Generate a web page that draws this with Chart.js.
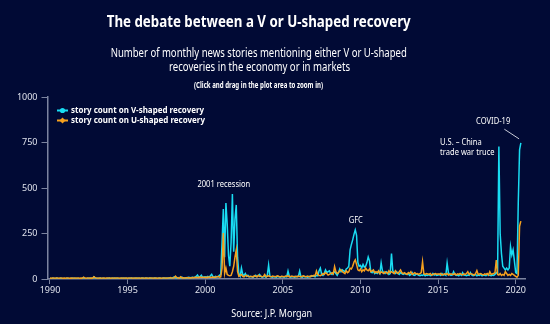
<!DOCTYPE html>
<html>
<head>
<meta charset="utf-8">
<script src="https://cdn.jsdelivr.net/npm/chart.js@4.4.1/dist/chart.umd.min.js"></script>
<style>
  html, body { margin: 0; padding: 0; background: #010a35; }
  #wrap { position: relative; width: 550px; height: 324px; overflow: hidden; background: #010a35; }
  canvas { position: absolute; left: 0; top: 0; }
  .row { position: absolute; width: 420px; text-align: center; white-space: nowrap; color: #fff; font-family: "Noto Sans", sans-serif; }
  .row span { display: inline-block; transform-origin: center center; }
</style>
</head>
<body>
<div id="wrap">
  <canvas id="chart" width="550" height="324"></canvas>
  <div class="row" style="left:49px; top:10px; font-size:16px; font-weight:700;"><span data-w="304">The debate between a V or U-shaped recovery</span></div>
  <div class="row" style="left:49px; top:45px; font-size:13px; line-height:14px;"><span data-w="296">Number of monthly news stories mentioning either V or U-shaped</span></div>
  <div class="row" style="left:49px; top:59px; font-size:13px; line-height:14px;"><span data-w="181">recoveries in the economy or in markets</span></div>
  <div class="row" style="left:49px; top:79px; font-size:8px; font-weight:700;"><span data-w="129">(Click and drag in the plot area to zoom in)</span></div>
  <div class="row" style="left:62px; top:305px; font-size:11.5px;"><span data-w="81">Source: J.P. Morgan</span></div>
</div>
<script>
// monthly counts, Jan 1990 .. May 2020
const vShaped = [
  3, 2, 4, 3, 2, 5, 3, 2, 4, 3, 2, 3,        // 1990
  2, 4, 3, 2, 3, 5, 2, 3, 4, 2, 3, 2,        // 1991
  3, 4, 8, 3, 2, 4, 3, 5, 4, 3, 12, 5,       // 1992
  3, 4, 3, 5, 2, 4, 3, 2, 4, 3, 5, 3,        // 1993
  4, 3, 5, 3, 4, 2, 3, 4, 3, 5, 3, 4,        // 1994
  3, 4, 3, 5, 4, 3, 4, 5, 3, 4, 3, 5,        // 1995
  4, 3, 5, 4, 3, 5, 4, 3, 4, 5, 4, 3,        // 1996
  4, 5, 3, 4, 6, 4, 5, 4, 6, 5, 4, 8,        // 1997
  12, 6, 5, 8, 6, 5, 10, 6, 5, 7, 6, 9,      // 1998
  8, 7, 10, 8, 9, 14, 22, 10, 12, 20, 9, 11, // 1999
  12, 10, 14, 9, 18, 26, 12, 10, 15, 11, 12, 20, // 2000
  25, 200, 385, 120, 418, 300, 130, 70, 200, 467, 150, 330, // 2001
  407, 120, 30, 15, 60, 25, 20, 30, 15, 20, 12, 15, // 2002
  12, 10, 15, 20, 12, 18, 25, 14, 10, 12, 15, 10, // 2003
  20, 77, 15, 12, 10, 14, 12, 10, 15, 12, 10, 14, // 2004
  12, 10, 14, 12, 44, 15, 10, 12, 14, 10, 12, 15, // 2005
  14, 44, 12, 10, 15, 12, 14, 10, 12, 15, 14, 18, // 2006
  15, 12, 20, 18, 45, 60, 25, 20, 30, 50, 35, 40, // 2007
  45, 30, 25, 35, 40, 30, 20, 35, 55, 40, 50, 45, // 2008
  40, 55, 60, 70, 160, 190, 215, 245, 270, 240, 90, 70, // 2009
  75, 60, 80, 65, 70, 90, 121, 100, 40, 35, 45, 30, // 2010
  35, 30, 40, 30, 88, 45, 35, 30, 40, 35, 25, 30, // 2011
  140, 45, 35, 30, 40, 30, 25, 35, 30, 25, 30, 28, // 2012
  25, 30, 20, 25, 35, 22, 20, 28, 25, 20, 18, 22, // 2013
  20, 25, 18, 22, 20, 25, 18, 20, 30, 22, 25, 20, // 2014
  22, 25, 20, 30, 22, 25, 20, 88, 35, 25, 20, 22, // 2015
  40, 25, 20, 22, 18, 25, 20, 35, 22, 20, 18, 22, // 2016
  20, 35, 22, 18, 20, 25, 18, 22, 20, 25, 18, 22, // 2017
  20, 18, 25, 22, 20, 18, 22, 20, 25, 35, 30, 728, // 2018
  250, 140, 70, 60, 50, 60, 50, 60, 178, 132, 160, 100, // 2019
  35, 30, 420, 710, 748                       // 2020
];
const uShaped = [
  5, 4, 6, 5, 4, 5, 6, 4, 5, 6, 4, 5,        // 1990
  4, 5, 6, 4, 5, 4, 6, 5, 4, 5, 6, 4,        // 1991
  5, 4, 10, 5, 4, 6, 5, 4, 6, 5, 12, 6,      // 1992
  5, 4, 6, 5, 4, 5, 6, 4, 5, 6, 5, 4,        // 1993
  5, 6, 4, 5, 6, 5, 4, 6, 5, 4, 5, 6,        // 1994
  4, 5, 6, 5, 4, 6, 5, 4, 5, 6, 4, 5,        // 1995
  5, 4, 6, 5, 4, 5, 6, 5, 4, 6, 5, 4,        // 1996
  5, 6, 4, 5, 6, 5, 4, 6, 5, 8, 6, 5,        // 1997
  6, 16, 8, 6, 5, 12, 6, 7, 5, 6, 8, 6,      // 1998
  7, 6, 8, 7, 10, 8, 9, 7, 12, 8, 9, 10,     // 1999
  8, 10, 9, 12, 8, 10, 11, 9, 10, 12, 15, 10, // 2000
  12, 60, 253, 30, 60, 25, 20, 18, 20, 40, 70, 120, // 2001
  160, 40, 15, 20, 25, 15, 12, 18, 20, 15, 12, 14, // 2002
  14, 12, 18, 15, 12, 20, 14, 16, 12, 14, 25, 12, // 2003
  15, 18, 14, 12, 16, 14, 12, 15, 18, 14, 12, 15, // 2004
  14, 12, 16, 14, 18, 12, 14, 16, 12, 14, 15, 12, // 2005
  16, 14, 12, 15, 18, 14, 12, 16, 14, 12, 18, 15, // 2006
  20, 18, 44, 25, 20, 18, 22, 30, 25, 35, 30, 22, // 2007
  25, 30, 35, 28, 68, 40, 30, 35, 45, 50, 40, 35, // 2008
  30, 45, 35, 40, 60, 55, 70, 93, 105, 80, 50, 45, // 2009
  55, 40, 50, 45, 60, 50, 45, 55, 40, 45, 50, 35, // 2010
  40, 35, 45, 30, 40, 35, 30, 40, 35, 30, 45, 35, // 2011
  40, 35, 30, 45, 35, 30, 40, 50, 35, 30, 35, 30, // 2012
  25, 35, 30, 40, 25, 30, 35, 28, 30, 25, 30, 35, // 2013
  95, 30, 25, 30, 28, 25, 30, 22, 25, 28, 30, 25, // 2014
  28, 25, 30, 22, 25, 28, 25, 30, 22, 25, 28, 25, // 2015
  25, 30, 22, 28, 25, 30, 25, 22, 28, 25, 30, 40, // 2016
  25, 30, 28, 25, 22, 30, 46, 25, 28, 30, 25, 22, // 2017
  28, 25, 30, 22, 40, 25, 28, 30, 35, 104, 25, 22, // 2018
  30, 20, 25, 20, 40, 30, 20, 25, 20, 30, 25, 20, // 2019
  15, 10, 20, 290, 318                        // 2020
];
const startYear = 1990;
const yearTicks = [1990, 1995, 2000, 2005, 2010, 2015, 2020];
const countTicks = [0, 250, 500, 750, 1000];
const seriesNames = ['story count on V-shaped recovery', 'story count on U-shaped recovery'];

const cyan = '#19dcf2';
const orange = '#f5a01e';
const axisColor = '#7c84a0';
const SQUEEZE = 0.84;

// text notes placed in data coordinates
const notes = [
  { lines: ['2001 recession'], x: 2001.2, y: 517, align: 'center' },
  { lines: ['GFC'], x: 2009.7, y: 320, align: 'center' },
  { lines: ['U.S. \u2013 China', 'trade war truce'], x: 2015.13, y: 749, align: 'left' },
  { lines: ['COVID-19'], x: 2018.55, y: 864, align: 'center' }
];

function toPoints(arr) {
  return arr.map((v, i) => ({ x: startYear + i / 12, y: v }));
}

function squeezedText(ctx, text, x, y, align) {
  const w = ctx.measureText(text).width * SQUEEZE;
  let left = x;
  if (align === 'center') left = x - w / 2;
  ctx.save();
  ctx.translate(left, y);
  ctx.scale(SQUEEZE, 1);
  ctx.textAlign = 'left';
  ctx.fillText(text, 0, 0);
  ctx.restore();
}

const overlay = {
  id: 'overlay',
  afterDatasetsDraw(chart) {
    const { ctx, scales: { x, y } } = chart;
    ctx.save();
    ctx.textBaseline = 'middle';

    // legend
    const colors = [cyan, orange];
    seriesNames.forEach((name, i) => {
      const ly = 110.5 + i * 10;
      ctx.strokeStyle = colors[i];
      ctx.fillStyle = colors[i];
      ctx.lineWidth = 2;
      ctx.beginPath();
      ctx.moveTo(57, ly);
      ctx.lineTo(68, ly);
      ctx.stroke();
      ctx.beginPath();
      if (i === 0) {
        ctx.arc(62.5, ly, 2.6, 0, Math.PI * 2);
      } else {
        ctx.moveTo(62.5, ly - 3); ctx.lineTo(65.5, ly); ctx.lineTo(62.5, ly + 3); ctx.lineTo(59.5, ly);
        ctx.closePath();
      }
      ctx.fill();
      ctx.fillStyle = '#fff';
      ctx.font = 'bold 9.5px "Noto Sans"';
      squeezedText(ctx, name, 71, ly, 'left');
    });

    // notes
    ctx.fillStyle = '#fff';
    ctx.font = '9px "Noto Sans"';
    notes.forEach(n => {
      const px = x.getPixelForValue(n.x);
      const py = y.getPixelForValue(n.y);
      n.lines.forEach((line, k) => squeezedText(ctx, line, px, py + k * 10, n.align));
    });

    // COVID-19 pointer
    ctx.strokeStyle = '#c8cbd8';
    ctx.lineWidth = 1;
    ctx.beginPath();
    ctx.moveTo(x.getPixelForValue(2019.27), y.getPixelForValue(823));
    ctx.lineTo(x.getPixelForValue(2020.22), y.getPixelForValue(770));
    ctx.stroke();
    ctx.restore();
  }
};

const ctx = document.getElementById('chart').getContext('2d');
const chart = new Chart(ctx, {
  type: 'line',
  data: {
    datasets: [
      { label: seriesNames[0], data: toPoints(vShaped), borderColor: cyan, borderWidth: 1.5, pointRadius: 0, order: 1 },
      { label: seriesNames[1], data: toPoints(uShaped), borderColor: orange, borderWidth: 1.5, pointRadius: 0, order: 0 }
    ]
  },
  options: {
    responsive: false,
    animation: false,
    devicePixelRatio: 1,
    layout: { padding: { left: 0, right: 25, top: 97, bottom: 25 } },
    plugins: { legend: { display: false }, tooltip: { enabled: false } },
    scales: {
      x: {
        type: 'linear',
        min: 1989.84,
        max: 2020.6,
        afterBuildTicks: s => { s.ticks = yearTicks.map(v => ({ value: v })); },
        afterFit: s => { s.height = 20; },
        grid: { drawOnChartArea: false, drawTicks: true, tickLength: 5, color: axisColor },
        border: { display: true, color: axisColor, width: 1.5 },
        ticks: { color: '#dfe2ec', font: { family: 'Noto Sans', size: 9 }, padding: 1, maxRotation: 0, callback: v => String(v) }
      },
      y: {
        min: 0,
        max: 1000,
        afterBuildTicks: s => { s.ticks = countTicks.map(v => ({ value: v })); },
        afterFit: s => { s.width = 47.5; },
        grid: { drawOnChartArea: false, drawTicks: true, tickLength: 6, color: axisColor },
        border: { display: true, color: axisColor, width: 1.5 },
        ticks: { color: '#dfe2ec', font: { family: 'Noto Sans', size: 9 }, padding: 4, callback: v => String(v) }
      }
    }
  },
  plugins: [overlay]
});

// squeeze the html headings to the reference widths
document.querySelectorAll('.row span').forEach(el => {
  const w = el.getBoundingClientRect().width;
  el.style.transform = 'scaleX(' + (Number(el.dataset.w) / w).toFixed(3) + ')';
});
</script>
</body>
</html>
